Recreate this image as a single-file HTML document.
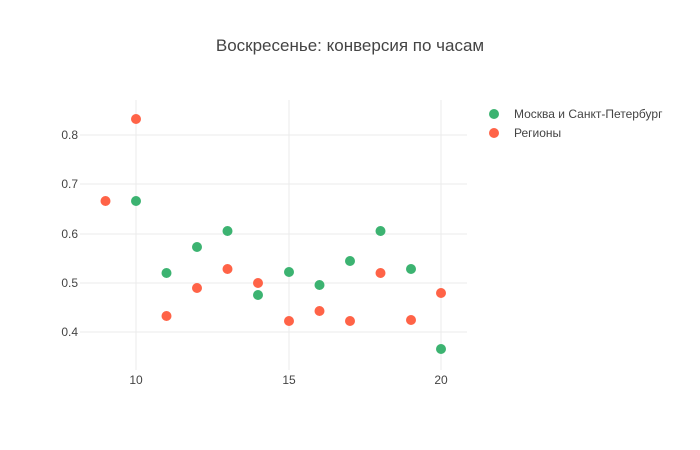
<!DOCTYPE html>
<html><head><meta charset="utf-8"><style>body{margin:0;background:#fff}svg{display:block;font-family:"Liberation Sans",sans-serif}</style></head>
<body>
<svg width="700" height="450" xmlns="http://www.w3.org/2000/svg">
<rect width="700" height="450" fill="#fff"/>
<g stroke="#ebebeb" stroke-width="1">
<line x1="136" y1="100" x2="136" y2="370"/><line x1="289" y1="100" x2="289" y2="370"/><line x1="441" y1="100" x2="441" y2="370"/>
<line x1="80" y1="135" x2="467" y2="135"/><line x1="80" y1="184" x2="467" y2="184"/><line x1="80" y1="234" x2="467" y2="234"/><line x1="80" y1="283" x2="467" y2="283"/><line x1="80" y1="332" x2="467" y2="332"/>
</g>
<g font-size="12" fill="#444" text-anchor="end">
<text x="78" y="139">0.8</text><text x="78" y="188">0.7</text><text x="78" y="238">0.6</text><text x="78" y="287">0.5</text><text x="78" y="336">0.4</text>
</g>
<g font-size="12" fill="#444" text-anchor="middle">
<text x="136" y="384">10</text><text x="289" y="384">15</text><text x="441" y="384">20</text>
</g>
<text x="350" y="51" font-size="17" fill="#444" text-anchor="middle">Воскресенье: конверсия по часам</text>
<g fill="#3cb371">
<circle cx="136" cy="201" r="5"/><circle cx="166.5" cy="273" r="5"/><circle cx="197" cy="247" r="5"/><circle cx="227.5" cy="231" r="5"/><circle cx="258" cy="295" r="5"/><circle cx="289" cy="272" r="5"/><circle cx="319.5" cy="285" r="5"/><circle cx="350" cy="261" r="5"/><circle cx="380.5" cy="231" r="5"/><circle cx="411" cy="269" r="5"/><circle cx="441" cy="349" r="5"/>
</g>
<g fill="#ff6347">
<circle cx="105.5" cy="201" r="5"/><circle cx="136" cy="119" r="5"/><circle cx="166.5" cy="316" r="5"/><circle cx="197" cy="288" r="5"/><circle cx="227.5" cy="269" r="5"/><circle cx="258" cy="283" r="5"/><circle cx="289" cy="321" r="5"/><circle cx="319.5" cy="311" r="5"/><circle cx="350" cy="321" r="5"/><circle cx="380.5" cy="273" r="5"/><circle cx="411" cy="320" r="5"/><circle cx="441" cy="293" r="5"/>
</g>
<circle cx="494" cy="114" r="5" fill="#3cb371"/><circle cx="494" cy="133" r="5" fill="#ff6347"/>
<g font-size="12" fill="#444"><text x="514" y="118">Москва и Санкт-Петербург</text><text x="514" y="137">Регионы</text></g>
</svg>
</body></html>
